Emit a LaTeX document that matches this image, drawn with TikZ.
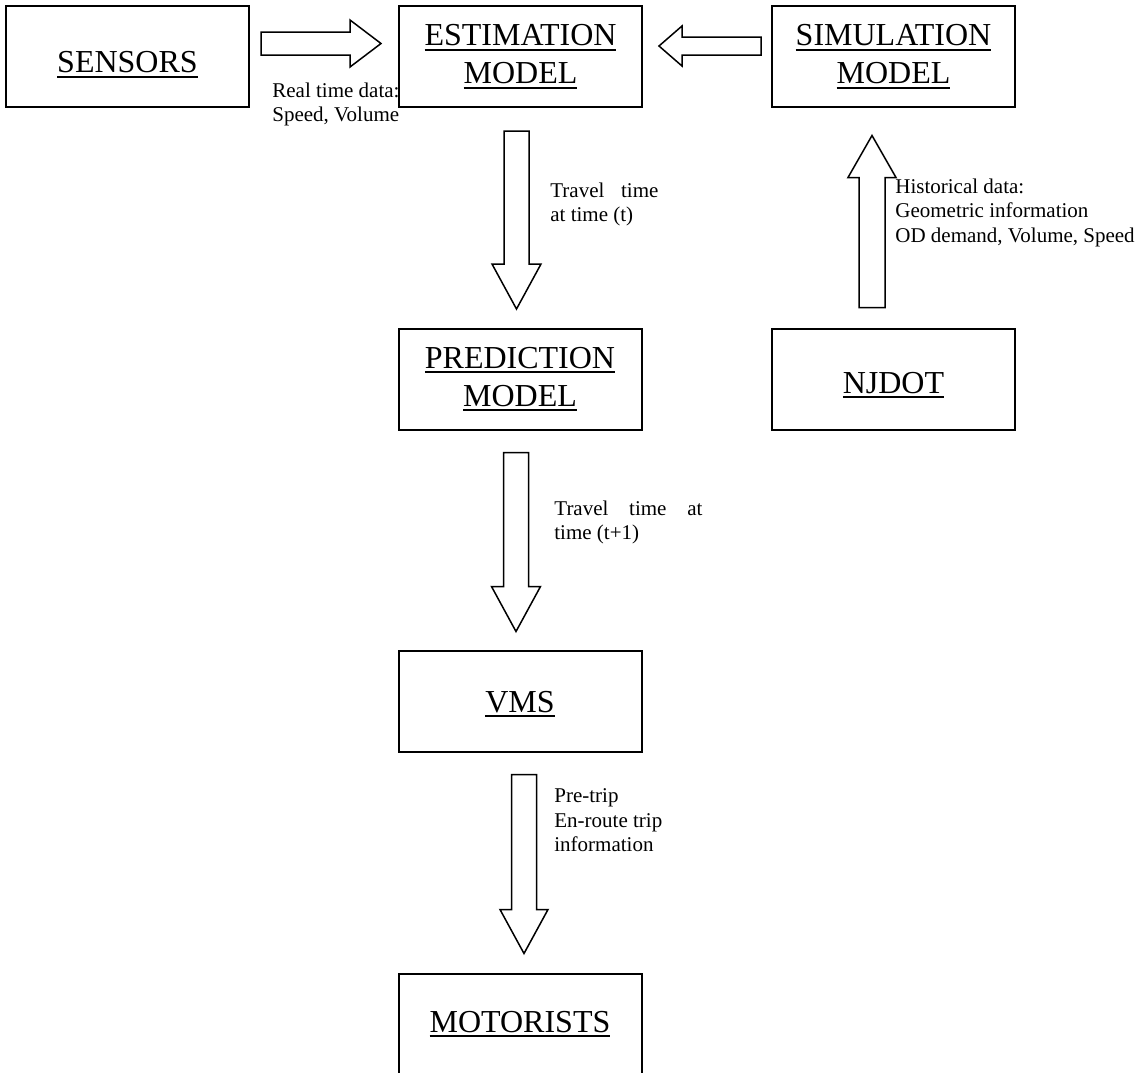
\documentclass[tikz,border=0pt]{standalone}
\usepackage{fontspec}
\setmainfont{Liberation Serif}
\usetikzlibrary{calc}

\newcommand\ulbox[1]{\setbox0\hbox{#1}\rlap{\rule[-2.5pt]{\wd0}{1pt}}\box0}

\tikzset{
  pics/blockarrow/.style n args={4}{code={
    % #1 length, #2 half shaft, #3 half head, #4 head length
    \draw[arrowline] (0,-#2) -- ({#1-#4},-#2) -- ({#1-#4},-#3) -- (#1,0)
      -- ({#1-#4},#3) -- ({#1-#4},#2) -- (0,#2) -- cycle;
  }}
}

\begin{document}
\begin{tikzpicture}[x=0.5pt, y=-0.5pt,
  unit/.style={draw, line width=1pt, minimum width=121.5pt, minimum height=50.5pt,
    inner sep=0pt, align=center, font=\fontsize{16}{19}\selectfont},
  note/.style={anchor=north west, inner sep=0pt, align=left,
    font=\fontsize{10.5}{12.2}\selectfont},
  arrowline/.style={line width=0.75pt, fill=white}]

  \useasboundingbox (0,0) rectangle (1147,1072);

  % boxes
  \node[unit, text height=18.8pt] (sens) at (127.5,56.5) {\ulbox{SENSORS}};
  \node[unit] (est) at (520.5,56.5) {\ulbox{ESTIMATION}\\\ulbox{MODEL}};
  \node[unit] (sim) at (893.5,56.5) {\ulbox{SIMULATION}\\\ulbox{MODEL}};
  \node[unit] (pred) at (520,379) {\ulbox{PREDICTION}\\\ulbox{MODEL}};
  \node[unit, text height=16.5pt] (njdot) at (893.5,379) {\ulbox{NJDOT}};
  \node[unit, text height=13.5pt] (vms) at (520,701) {\ulbox{VMS}};
  \node[unit] (mot) at (520,1024) {\ulbox{MOTORISTS}};

  % block arrows
  \pic at ($(sens.east)+(11,-13)$) {blockarrow={120}{11.5}{23.5}{31}};
  \pic[rotate=180] at ($(sim.west)+(-10,-10.5)$) {blockarrow={102}{9}{20}{23}};
  \pic[rotate=-90] at ($(est.south)+(-4,23)$) {blockarrow={178}{12.5}{24.5}{45}};
  \pic[rotate=90] at ($(njdot.north)+(-21.5,-20)$) {blockarrow={172}{13}{24}{42}};
  \pic[rotate=-90] at ($(pred.south)+(-4,22)$) {blockarrow={179}{12.5}{24.5}{45}};
  \pic[rotate=-90] at ($(vms.south)+(4,22)$) {blockarrow={179}{12.5}{24}{44}};

  % labels
  \node[note] (realtime) at (272,82.5) {Real time data:\\Speed, Volume};
  \node[note] (hist) at (895,178.5)
    {Historical data:\\Geometric information\\OD demand, Volume, Speed};
  \node[note] (ttnow) at (550,182.5) {\makebox[54pt][s]{Travel time}\\at time (t)};
  \node[note] (ttnext) at (554,500.5) {\makebox[74pt][s]{Travel time at}\\time (t+1)};
  \node[note] (trip) at (554,788.5) {Pre-trip\\En-route trip\\information};

\end{tikzpicture}
\end{document}
